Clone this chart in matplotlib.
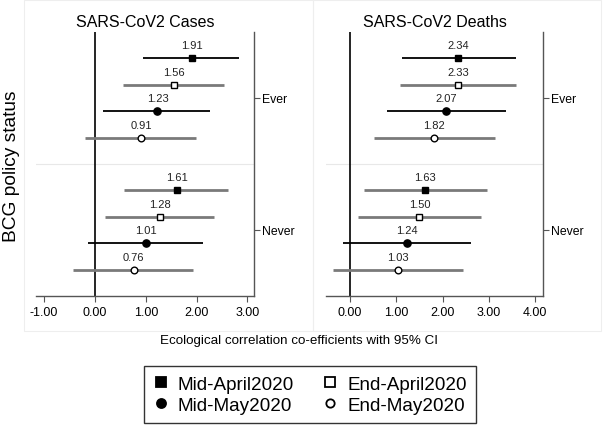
import numpy as np
import matplotlib.pyplot as plt
from matplotlib.lines import Line2D
from matplotlib.patches import Rectangle

plt.rcParams['font.family'] = ['Liberation Sans', 'DejaVu Sans']

# order within each group: Mid-April, End-April, Mid-May, End-May
periods = ['Mid-April2020', 'End-April2020', 'Mid-May2020', 'End-May2020']
groups = ['Ever', 'Never']

cases_est = {'Ever': [1.91, 1.56, 1.23, 0.91], 'Never': [1.61, 1.28, 1.01, 0.76]}
cases_lo = {'Ever': [0.95, 0.55, 0.16, -0.20], 'Never': [0.57, 0.19, -0.13, -0.43]}
cases_hi = {'Ever': [2.83, 2.54, 2.26, 1.99], 'Never': [2.62, 2.34, 2.13, 1.92]}

deaths_est = {'Ever': [2.34, 2.33, 2.07, 1.82], 'Never': [1.63, 1.50, 1.24, 1.03]}
deaths_lo = {'Ever': [1.12, 1.08, 0.80, 0.52], 'Never': [0.31, 0.18, -0.15, -0.36]}
deaths_hi = {'Ever': [3.59, 3.59, 3.37, 3.13], 'Never': [2.95, 2.83, 2.61, 2.44]}

# which CI lines are drawn dark (the rest grey)
dark = {'Ever': [True, False, True, False], 'Never': [False, False, True, False]}

markers = ['s', 's', 'o', 'o']
filled = [True, False, True, False]
msizes = [4.4, 4.0, 5.2, 4.8]

fig = plt.figure(figsize=(6.04, 4.31), dpi=100)
W, H = 604.0, 431.0

# panel background boxes
for x0, x1 in [(24, 313), (313, 601)]:
  fig.patches.append(Rectangle((x0 / W, 1 - 332 / H), (x1 - x0) / W, 331 / H,
                               transform=fig.transFigure, facecolor='none',
                               edgecolor='#eeeeee', lw=0.8, zorder=-1))

def panel(rect, est, lo, hi, xlim, ticks, title):
  ax = fig.add_axes(rect)
  ax.patch.set_alpha(0)
  ax.set_xlim(*xlim)
  ax.set_ylim(10, 0)
  ax.axvline(0, color='black', lw=1.2, zorder=1)
  ax.axhline(5, color='#e8e8e8', lw=0.8, zorder=0)
  for gi, g in enumerate(groups):
    for i in range(4):
      y = gi * 5 + 1 + i
      col = 'black' if dark[g][i] else '#7a7a7a'
      lw = 1.3 if dark[g][i] else 2.0
      ax.plot([lo[g][i], hi[g][i]], [y, y], color=col, lw=lw, solid_capstyle='butt', zorder=2)
      ax.plot(est[g][i], y, marker=markers[i], ms=msizes[i],
              mfc='black' if filled[i] else 'white', mec='black', mew=1.0, zorder=3)
      ax.text(est[g][i], y - 0.3, '%.2f' % est[g][i], ha='center', va='bottom',
              fontsize=8, color='#222222')
  for s in ['left', 'top']:
    ax.spines[s].set_visible(False)
  for s in ['right', 'bottom']:
    ax.spines[s].set_color('#555555')
    ax.spines[s].set_linewidth(1.0)
  ax.set_xticks(ticks)
  ax.set_xticklabels(['%.2f' % t for t in ticks], fontsize=9)
  ax.tick_params(axis='x', length=4, color='#555555', pad=3)
  ax.yaxis.tick_right()
  ax.set_yticks([2.5, 7.5])
  ax.set_yticklabels(groups, fontsize=8.8)
  ax.tick_params(axis='y', length=4, color='#555555', pad=2)
  ax.set_title(title, fontsize=11.5, pad=4)
  return ax

ax1 = panel([36 / W, 1 - 297 / H, 218 / W, 264 / H], cases_est, cases_lo, cases_hi,
            (-1.161, 3.13), [-1, 0, 1, 2, 3], 'SARS-CoV2 Cases')
ax2 = panel([326 / W, 1 - 297 / H, 217 / W, 264 / H], deaths_est, deaths_lo, deaths_hi,
            (-0.518, 4.17), [0, 1, 2, 3, 4], 'SARS-CoV2 Deaths')

fig.text(12 / W, 1 - 166 / H, 'BCG policy status', rotation=90, ha='center', va='center',
         fontsize=13.8)
fig.text(299 / W, 1 - 341 / H, 'Ecological correlation co-efficients with 95% CI',
         ha='center', va='center', fontsize=9.6)

# legend, row-wise: Mid-April, End-April / Mid-May, End-May
handles = []
for i in [0, 2, 1, 3]:
  handles.append(Line2D([], [], ls='none', marker=markers[i], ms=[7, 6.5, 6.5, 6][i],
                        mfc='black' if filled[i] else 'white', mec='black', mew=1.3,
                        label=periods[i]))
leg = fig.legend(handles=handles, ncol=2, loc='center', bbox_to_anchor=(310 / W, 1 - 395.5 / H),
                 fontsize=13.6, frameon=True, fancybox=False, edgecolor='black',
                 handlelength=0.8, handletextpad=0.5, columnspacing=1.5,
                 borderpad=0.5, labelspacing=0.2)
leg.get_frame().set_linewidth(1.0)

fig.savefig('out.png', dpi=100, facecolor='white')
